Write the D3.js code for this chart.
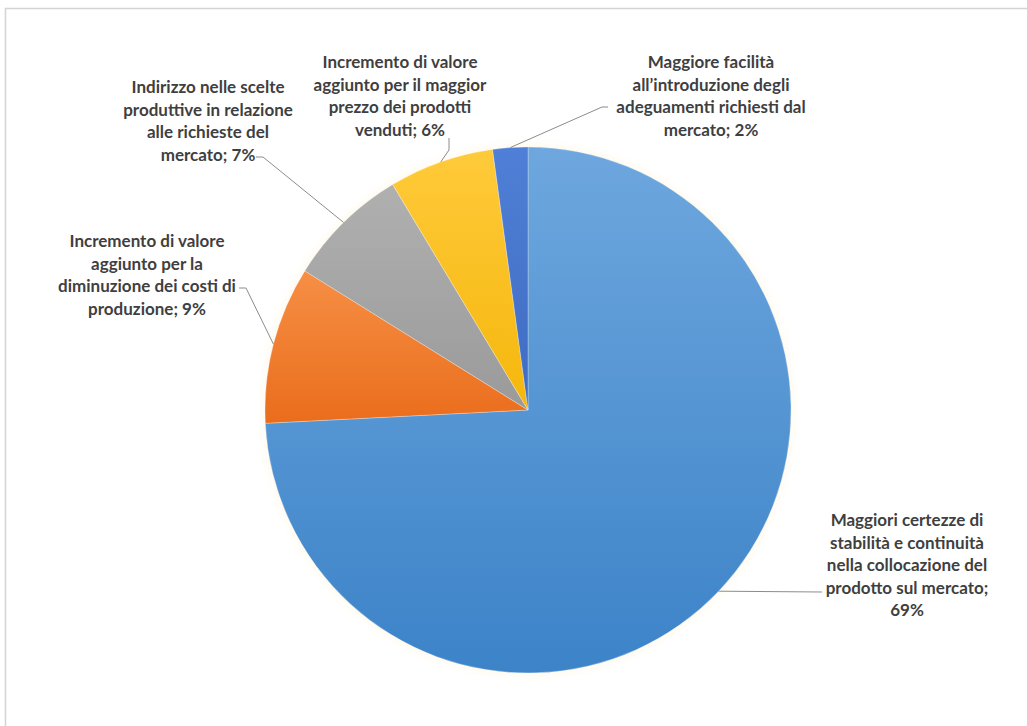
<!DOCTYPE html>
<html>
<head>
<meta charset="utf-8">
<script src="https://cdn.jsdelivr.net/npm/d3@7"></script>
<style>
  html, body { margin: 0; padding: 0; background: #fff; }
  svg { display: block; }
  .lbl { font-family: Lato, "Open Sans", sans-serif; font-weight: 700; font-size: 17px; fill: #3f3f3f; }
</style>
</head>
<body>
<svg id="chart" width="1027" height="726"></svg>
<script>
// Categories (label lines) and values, in drawing order clockwise from 12 o'clock
const categories = [
  ["Maggiori certezze di", "stabilità e continuità", "nella collocazione del", "prodotto sul mercato;"],
  ["Incremento di valore", "aggiunto per la", "diminuzione dei costi di", "produzione;"],
  ["Indirizzo nelle scelte", "produttive in relazione", "alle richieste del", "mercato;"],
  ["Incremento di valore", "aggiunto per il maggior", "prezzo dei prodotti", "venduti;"],
  ["Maggiore facilità", "all’introduzione degli", "adeguamenti richiesti dal", "mercato;"]
];
const values = [69, 9, 7, 6, 2];
const colorsLight = ["#6ea7de", "#f68f45", "#b0b0b0", "#ffca3a", "#4f7fd6"];
const colorsDark  = ["#3c83c8", "#ea6d1c", "#9a9a9a", "#f5b70c", "#3f6cc2"];

// Label block placement: centre x, first-line centre y, and where the leader meets the label
const labelLayout = [
  { cx: 907, y0: 520, anchor: [[822, 592]] },
  { cx: 147, y0: 241, anchor: [[239, 288], [246, 288]] },
  { cx: 208, y0: 87,  anchor: [[256, 157], [263, 157]] },
  { cx: 400, y0: 62,  anchor: [[449, 138], [449, 150]] },
  { cx: 711, y0: 62,  anchor: [[608, 107], [602, 107]] }
];

const svg = d3.select("#chart");
const W = 1027, H = 726;
const cx = 528, cy = 410, R = 263;
const lineH = 22.5;

// chart frame
svg.append("rect").attr("x", 5.5).attr("y", 8.5).attr("width", W + 10).attr("height", H + 10)
  .attr("fill", "#fff").attr("stroke", "#d4d4d4").attr("stroke-width", 1.5);

const defs = svg.append("defs");
values.forEach((v, i) => {
  const g = defs.append("linearGradient").attr("id", "grad" + i)
    .attr("x1", 0).attr("y1", 0).attr("x2", 0).attr("y2", 1);
  g.append("stop").attr("offset", "0%").attr("stop-color", colorsLight[i]);
  g.append("stop").attr("offset", "100%").attr("stop-color", colorsDark[i]);
});
const glow = defs.append("filter").attr("id", "glow").attr("x", "-10%").attr("y", "-10%").attr("width", "120%").attr("height", "120%");
glow.append("feGaussianBlur").attr("stdDeviation", 4);

const pie = d3.pie().sort(null).value(d => d)(values);
const arc = d3.arc().innerRadius(0).outerRadius(R);
const edge = d3.arc().innerRadius(R).outerRadius(R);

const g = svg.append("g").attr("transform", `translate(${cx},${cy})`);

// faint halo around the pie
g.append("circle").attr("r", R + 2).attr("fill", "#fff3d6").attr("opacity", 0.5).attr("filter", "url(#glow)");

g.selectAll("path.slice").data(pie).join("path")
  .attr("class", "slice")
  .attr("d", arc)
  .attr("fill", (d, i) => `url(#grad${i})`)
  .attr("stroke", "#ffffff").attr("stroke-opacity", 0.35).attr("stroke-width", 0.8);

// leader lines: from the slice edge at its mid angle to the label
const leaders = pie.map((d, i) => {
  const p = edge.centroid(d);
  const pts = [[p[0] + cx, p[1] + cy]];
  labelLayout[i].anchor.slice().reverse().forEach(a => pts.push(a));
  return pts;
});
svg.selectAll("path.leader").data(leaders).join("path")
  .attr("class", "leader")
  .attr("d", d3.line())
  .attr("fill", "none").attr("stroke", "#8c8c8c").attr("stroke-width", 1);

// labels: category text followed by the value
const fmt = v => d3.format("d")(v) + "%";
categories.forEach((lines, i) => {
  const L = labelLayout[i];
  const all = lines.slice();
  if (i === 0) all.push(fmt(values[i]));
  else all[all.length - 1] = all[all.length - 1] + " " + fmt(values[i]);
  const t = svg.append("text").attr("class", "lbl").attr("text-anchor", "middle");
  all.forEach((s, k) => {
    t.append("tspan").attr("x", L.cx).attr("y", L.y0 + k * lineH + 6).text(s);
  });
});
</script>
</body>
</html>
